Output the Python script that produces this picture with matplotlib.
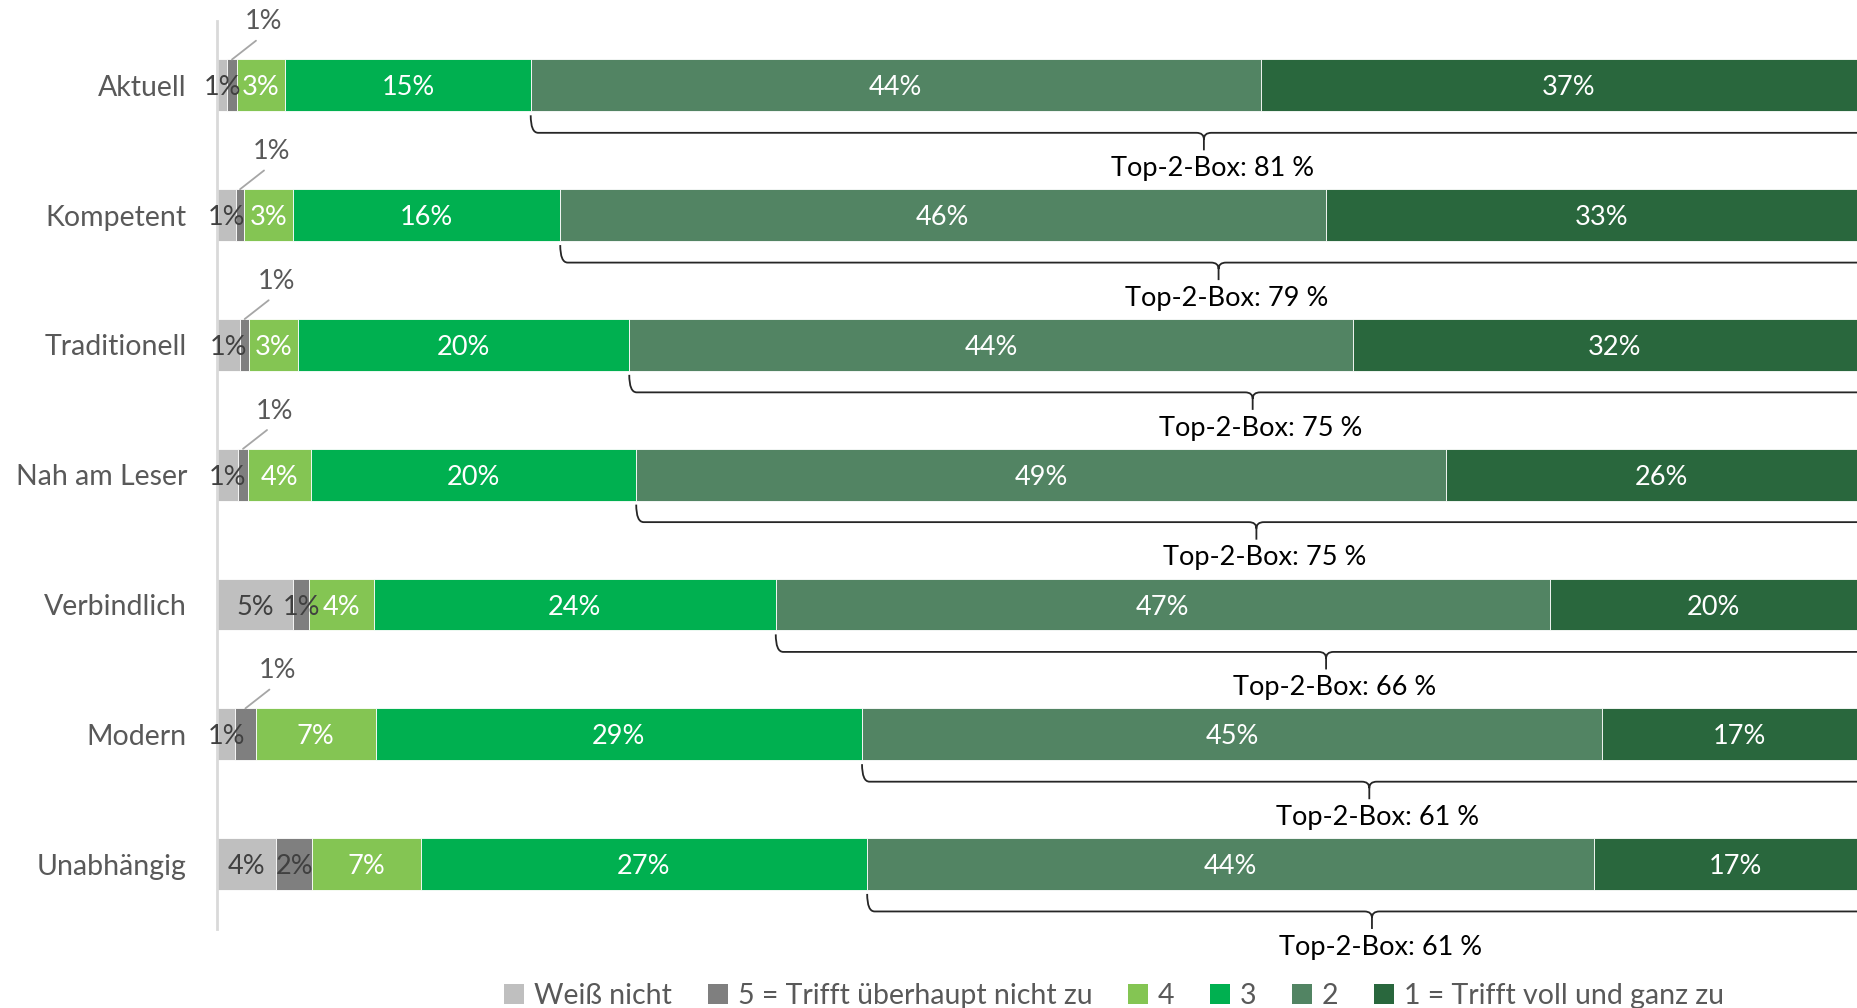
import matplotlib.pyplot as plt
from matplotlib.path import Path
from matplotlib.patches import PathPatch, Patch

# ─────────────────────────────────────
# DATA (percent of respondents)
# ─────────────────────────────────────
kategorien = ["Aktuell", "Kompetent", "Traditionell", "Nah am Leser",
              "Verbindlich", "Modern", "Unabhängig"]

weiss_nicht = [0.6, 1.1, 1.36, 1.24, 4.55, 1.05, 3.53]
stufe5 = [0.55, 0.52, 0.56, 0.6, 0.98, 1.27, 2.19]
stufe4 = [2.95, 2.95, 2.92, 3.8, 3.9, 7.21, 6.53]
stufe3 = [14.78, 16.09, 19.98, 19.6, 24.22, 29.32, 26.91]
stufe2 = [44.02, 46.13, 43.6, 48.83, 46.64, 44.6, 43.83]
stufe1 = [37.13, 33.23, 31.55, 25.93, 19.7, 16.55, 17.02]

legend_labels = ["Weiß nicht", "5 = Trifft überhaupt nicht zu", "4", "3", "2",
                 "1 = Trifft voll und ganz zu"]

# small "5" segments that get their label above the bar
callout5 = [True, True, True, True, False, True, False]

# ─────────────────────────────────────
# STYLE
# ─────────────────────────────────────
FONT = "Lato"
colors = ["#BFBFBF", "#7F7F7F", "#84C553", "#00B050", "#528463", "#29673D"]
text_colors = ["#404040", "#404040", "white", "white", "white", "white"]
LABEL_SIZE = 19.5

plt.rcParams["font.family"] = [FONT, "DejaVu Sans"]

fig = plt.figure(figsize=(18.57, 10.08), dpi=100)
ax = fig.add_axes([0.1171, 0.0784, 0.8829, 0.9012])

series = [weiss_nicht, stufe5, stufe4, stufe3, stufe2, stufe1]
ypos = list(range(len(kategorien)))
left = [0.0] * len(kategorien)
for s_idx, vals in enumerate(series):
    ax.barh(ypos, vals, left=left, height=0.4, color=colors[s_idx],
            edgecolor="white", linewidth=0.6, label=legend_labels[s_idx])
    for i, v in enumerate(vals):
        xc = left[i] + v / 2
        txt = f"{v:.0f}%"
        if s_idx == 1 and callout5[i]:
            ax.annotate(txt, xy=(xc, i - 0.2), xytext=(23, 27),
                        textcoords="offset points", ha="center", va="center",
                        fontsize=LABEL_SIZE, color="#595959",
                        annotation_clip=False,
                        arrowprops=dict(arrowstyle="-", color="#A6A6A6", lw=1.3,
                                        relpos=(0.5, 0.0), shrinkA=4, shrinkB=0))
        else:
            ax.text(xc, i, txt, ha="center", va="center_baseline",
                    fontsize=LABEL_SIZE, color=text_colors[s_idx], clip_on=False)
    left = [l + v for l, v in zip(left, vals)]

# Top-2-Box braces under each bar
for i in ypos:
    x0 = weiss_nicht[i] + stufe5[i] + stufe4[i] + stufe3[i]
    top2 = stufe2[i] + stufe1[i]
    x1 = x0 + top2
    xm = (x0 + x1) / 2
    yl = i + 0.365
    verts = [
        (x0, i + 0.23), (x0, yl), (x0 + 0.45, yl),
        (xm - 0.45, yl), (xm, yl), (xm, yl + 0.05),
        (xm, yl + 0.135),
        (xm, yl + 0.05), (xm, yl), (xm + 0.45, yl),
        (x1 - 0.45, yl), (x1, yl), (x1, i + 0.23),
    ]
    codes = [Path.MOVETO, Path.CURVE3, Path.CURVE3,
             Path.LINETO, Path.CURVE3, Path.CURVE3,
             Path.LINETO,
             Path.MOVETO, Path.CURVE3, Path.CURVE3,
             Path.LINETO, Path.CURVE3, Path.CURVE3]
    ax.add_patch(PathPatch(Path(verts, codes), facecolor="none",
                           edgecolor="#262626", lw=1.3, clip_on=False))
    ax.text(xm + 0.5, i + 0.64, f"Top-2-Box: {top2:.0f} %", ha="center",
            va="center", fontsize=LABEL_SIZE, color="black", clip_on=False)

ax.set_xlim(0, 98.82)
ax.set_ylim(len(kategorien) - 0.5, -0.5)
ax.set_yticks(ypos)
ax.set_yticklabels(kategorien, fontsize=20.5, color="#595959")
ax.tick_params(axis="y", length=0, pad=22)
ax.set_xticks([])
for side in ["top", "right", "bottom"]:
    ax.spines[side].set_visible(False)
ax.spines["left"].set_color("#D9D9D9")
ax.spines["left"].set_linewidth(2)

handles = [Patch(facecolor=c, edgecolor="none") for c in colors]
fig.legend(handles, legend_labels, loc="center", bbox_to_anchor=(0.6, 0.012),
           ncol=6, frameon=False, fontsize=20.5, labelcolor="#595959",
           handlelength=0.7, handleheight=0.7, handletextpad=0.35,
           columnspacing=1.25)

plt.savefig("out.png", dpi=100)
